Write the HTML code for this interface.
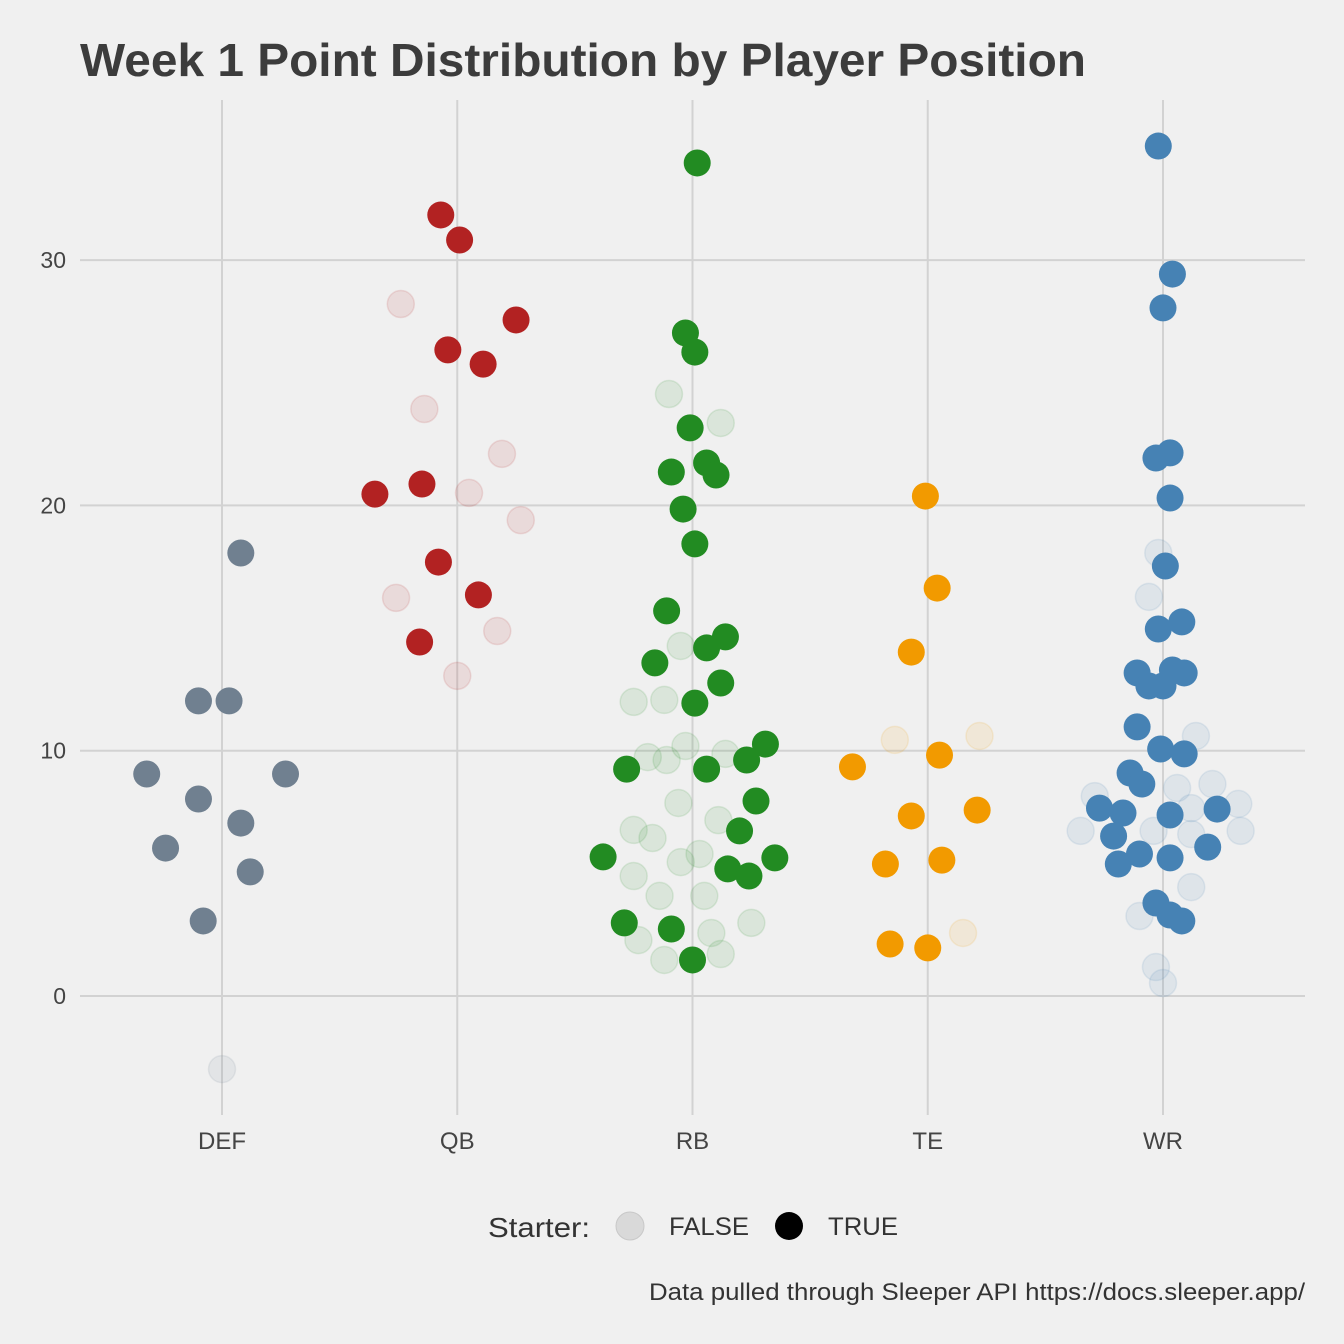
<!DOCTYPE html>
<html><head><meta charset="utf-8"><style>
html,body{margin:0;padding:0;background:#f0f0f0;}
svg{display:block;font-family:"Liberation Sans",Arial,sans-serif;}
</style></head><body>
<svg id="chart" width="1344" height="1344" viewBox="0 0 1344 1344" xmlns="http://www.w3.org/2000/svg">
<rect width="1344" height="1344" fill="#f0f0f0"/>
<text x="80" y="76" font-size="46" font-weight="bold" fill="#3c3c3c" textLength="1006" lengthAdjust="spacingAndGlyphs">Week 1 Point Distribution by Player Position</text>
<g id="grid"></g>
<g id="points"></g>
<g id="axes"></g>
<g>
<text x="488" y="1237" font-size="28" fill="#333" textLength="102" lengthAdjust="spacingAndGlyphs">Starter:</text>
<circle cx="630" cy="1226" r="14" fill="#d9d9d9" stroke="#c8c8c8"/>
<text x="669" y="1235" font-size="25" fill="#333" textLength="80" lengthAdjust="spacingAndGlyphs">FALSE</text>
<circle cx="789" cy="1226" r="14" fill="#000"/>
<text x="828" y="1235" font-size="25" fill="#333" textLength="70" lengthAdjust="spacingAndGlyphs">TRUE</text>
</g>
<text x="1305" y="1300" font-size="24" fill="#333" text-anchor="end" textLength="656" lengthAdjust="spacingAndGlyphs">Data pulled through Sleeper API https://docs.sleeper.app/</text>
</svg>
<script>
const categories = ["DEF","QB","RB","TE","WR"];
const colors = ["#708090","#b22222","#228b22","#f29a00","#4682b4"];
const yTicks = [0,10,20,30];
// each point: [categoryIndex, jitter (category units), points, starter]
const defPts = [[0,-0.32,9.05,1],[0,-0.24,6.03,1],[0,-0.10,12.03,1],[0,0.03,12.03,1],[0,-0.10,8.03,1],[0,0.08,7.05,1],[0,0.08,18.06,1],[0,0.12,5.06,1],[0,-0.08,3.06,1],[0,0.27,9.05,1],[0,0,-2.98,0]];
const qbPts = [[1,-0.07,31.84,1],[1,0.01,30.82,1],[1,0.25,27.56,1],[1,-0.04,26.34,1],[1,0.11,25.76,1],[1,-0.35,20.46,1],[1,-0.15,20.87,1],[1,-0.08,17.69,1],[1,0.09,16.35,1],[1,-0.16,14.43,1],
[1,-0.24,28.21,0],[1,-0.14,23.93,0],[1,0.19,22.10,0],[1,0.05,20.51,0],[1,0.27,19.40,0],[1,-0.26,16.23,0],[1,0.17,14.88,0],[1,0,13.05,0]];
const rbPts = [[2,0.02,33.96,1],[2,-0.03,27.03,1],[2,0.01,26.25,1],[2,-0.01,23.16,1],[2,-0.09,21.36,1],[2,0.06,21.73,1],[2,0.10,21.24,1],[2,-0.04,19.85,1],[2,0.01,18.43,1],[2,-0.11,15.70,1],[2,0.14,14.64,1],[2,0.06,14.19,1],[2,-0.16,13.58,1],[2,0.12,12.76,1],[2,0.01,11.94,1],[2,0.31,10.27,1],[2,0.23,9.62,1],[2,-0.28,9.25,1],[2,0.06,9.25,1],[2,0.27,7.95,1],[2,0.20,6.73,1],[2,-0.38,5.67,1],[2,0.35,5.63,1],[2,0.15,5.18,1],[2,0.24,4.89,1],[2,-0.29,2.98,1],[2,-0.09,2.73,1],[2,0,1.47,1],
[2,-0.10,24.54,0],[2,0.12,23.36,0],[2,-0.05,14.27,0],[2,-0.25,11.99,0],[2,-0.12,12.07,0],[2,-0.03,10.19,0],[2,-0.19,9.74,0],[2,-0.11,9.62,0],[2,0.14,9.87,0],[2,-0.06,7.87,0],[2,0.11,7.17,0],[2,-0.25,6.77,0],[2,-0.17,6.44,0],[2,0.03,5.79,0],[2,-0.05,5.46,0],[2,-0.25,4.89,0],[2,-0.14,4.08,0],[2,0.05,4.08,0],[2,0.25,2.98,0],[2,0.08,2.57,0],[2,-0.23,2.28,0],[2,0.12,1.71,0],[2,-0.12,1.47,0]];
const tePts = [[3,-0.01,20.38,1],[3,0.04,16.63,1],[3,-0.07,14.02,1],[3,-0.32,9.34,1],[3,0.05,9.82,1],[3,-0.07,7.34,1],[3,0.21,7.58,1],[3,-0.18,5.38,1],[3,0.06,5.54,1],[3,-0.16,2.12,1],[3,0,1.96,1],
[3,-0.14,10.44,0],[3,0.22,10.60,0],[3,0.15,2.57,0]];
const wrPts = [[4,-0.02,34.65,1],[4,0.04,29.43,1],[4,0,28.05,1],[4,-0.03,21.93,1],[4,0.03,22.14,1],[4,0.03,20.30,1],[4,0.01,17.53,1],[4,0.08,15.25,1],[4,-0.02,14.96,1],[4,-0.11,13.17,1],[4,-0.06,12.64,1],[4,0,12.64,1],[4,0.04,13.29,1],[4,0.09,13.17,1],[4,-0.11,10.97,1],[4,-0.01,10.07,1],[4,0.09,9.87,1],[4,-0.14,9.09,1],[4,-0.09,8.64,1],[4,-0.27,7.66,1],[4,-0.17,7.46,1],[4,0.03,7.38,1],[4,0.23,7.62,1],[4,-0.21,6.52,1],[4,-0.10,5.79,1],[4,0.03,5.63,1],[4,-0.19,5.38,1],[4,0.19,6.07,1],[4,-0.03,3.79,1],[4,0.03,3.30,1],[4,0.08,3.06,1],
[4,-0.02,18.06,0],[4,-0.06,16.27,0],[4,-0.29,8.15,0],[4,-0.35,6.73,0],[4,0.14,10.60,0],[4,0.06,8.48,0],[4,0.21,8.64,0],[4,0.32,7.83,0],[4,0.12,7.66,0],[4,0.33,6.73,0],[4,-0.04,6.73,0],[4,0.12,6.60,0],[4,0.12,4.44,0],[4,-0.10,3.26,0],[4,-0.03,1.18,0],[4,0,0.53,0]];

const NS="http://www.w3.org/2000/svg";
const x0=222, xStep=235.25;
function xScale(c){return x0+c*xStep;}
function yScale(v){return 996-v*24.53;}
function mk(tag,attrs,parent){const e=document.createElementNS(NS,tag);for(const k in attrs)e.setAttribute(k,attrs[k]);parent.appendChild(e);return e;}
const grid=document.getElementById('grid'), axes=document.getElementById('axes'), pts=document.getElementById('points');
yTicks.forEach(t=>{
  const l=mk('line',{x1:80,x2:1305,y1:yScale(t),y2:yScale(t),stroke:'#d2d2d2','stroke-width':2},grid);
  
  
  const tx=mk('text',{x:66,y:yScale(t)+8,'font-size':23,fill:'#444','text-anchor':'end'},axes);
  tx.textContent=t;
  
  
});
categories.forEach((c,i)=>{
  const l=mk('line',{x1:xScale(i),x2:xScale(i),y1:100,y2:1115,stroke:'#d2d2d2','stroke-width':2},grid);
  
  
  const tx=mk('text',{x:xScale(i),y:1149,'font-size':24,fill:'#444','text-anchor':'middle'},axes);
  tx.textContent=c;
  
  
});
const all=[].concat(defPts,qbPts,rbPts,tePts,wrPts);
[0,1].forEach(s=>{
  all.filter(p=>p[3]===s).forEach(p=>{
    const col=colors[p[0]];
    const attrs={cx:xScale(p[0]+p[1]),cy:yScale(p[2]),r:13.5,fill:col};
    if(!s){attrs['fill-opacity']=0.1;attrs.stroke=col;attrs['stroke-opacity']=0.12;attrs['stroke-width']=1.5;}
    const c=mk('circle',attrs,pts);
    
    
  });
});
</script>
</body></html>
